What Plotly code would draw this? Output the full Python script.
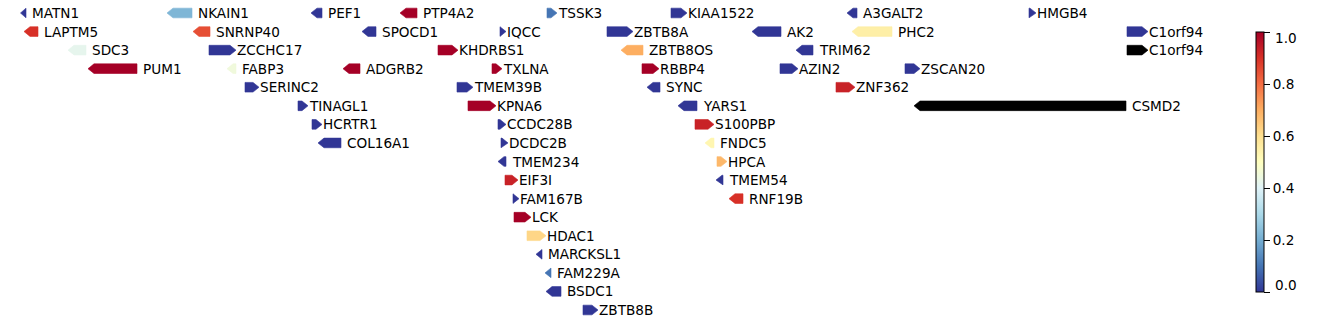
import plotly.graph_objects as go
from plotly.colors import sample_colorscale, diverging

# ---- data (x in track units, row = stacking level) ----
genes = ["MATN1", "NKAIN1", "PEF1", "PTP4A2", "TSSK3", "KIAA1522", "A3GALT2", "HMGB4",
         "LAPTM5", "SNRNP40", "SPOCD1", "IQCC", "ZBTB8A", "AK2", "PHC2", "C1orf94",
         "SDC3", "ZCCHC17", "KHDRBS1", "ZBTB8OS", "TRIM62", "C1orf94",
         "PUM1", "FABP3", "ADGRB2", "TXLNA", "RBBP4", "AZIN2", "ZSCAN20",
         "SERINC2", "TMEM39B", "SYNC", "ZNF362",
         "TINAGL1", "KPNA6", "YARS1", "CSMD2",
         "HCRTR1", "CCDC28B", "S100PBP",
         "COL16A1", "DCDC2B", "FNDC5",
         "TMEM234", "HPCA",
         "EIF3I", "TMEM54",
         "FAM167B", "RNF19B",
         "LCK", "HDAC1", "MARCKSL1", "FAM229A", "BSDC1", "ZBTB8B"]
starts = [20.5, 167, 311, 400, 547, 671, 847, 1029,
          24, 193, 362, 500, 607, 752, 852, 1127,
          68, 209, 438, 621, 796, 1127,
          88, 227, 343, 492, 642, 780, 905,
          245, 457, 647, 836,
          298, 468, 678, 914,
          312, 498, 695,
          318, 501, 705,
          498, 717,
          505, 716,
          513, 729,
          514, 527, 536, 545, 546, 583]
ends = [26, 192, 322, 417, 557, 687, 857, 1036,
        38, 210, 376, 506, 633, 781, 892, 1148,
        86, 236, 458, 643, 813, 1148,
        137, 236, 360, 502, 659, 798, 920,
        259, 473, 660, 855,
        308, 496, 697, 1126,
        322, 506, 714,
        341, 508, 714,
        506, 727,
        518, 723,
        519, 743,
        531, 546, 542, 551, 561, 598]
strands = ["-", "-", "-", "-", "+", "+", "-", "+",
           "-", "-", "-", "+", "+", "-", "-", "+",
           "-", "+", "+", "-", "-", "+",
           "-", "-", "-", "+", "+", "+", "+",
           "+", "+", "-", "+",
           "+", "+", "-", "-",
           "+", "+", "+",
           "-", "+", "-",
           "-", "+",
           "+", "-",
           "+", "-",
           "+", "+", "-", "-", "-", "+"]
rows = [0] * 8 + [1] * 8 + [2] * 6 + [3] * 7 + [4] * 4 + [5] * 4 + [6] * 3 + [7] * 3 + \
       [8] * 2 + [9] * 2 + [10] * 2 + [11, 12, 13, 14, 15, 16]
scores = [0.0, 0.22, 0.0, 1.0, 0.1, 0.0, 0.0, 0.0,
          0.9, 0.85, 0.0, 0.0, 0.0, 0.0, 0.55, 0.0,
          0.42, 0.0, 1.0, 0.7, 0.0, None,
          1.0, 0.45, 1.0, 1.0, 1.0, 0.0, 0.0,
          0.0, 0.0, 0.0, 0.93,
          0.0, 1.0, 0.0, None,
          0.0, 0.0, 0.93,
          0.0, 0.0, 0.53,
          0.0, 0.68,
          0.93, 0.0,
          0.0, 0.9,
          1.0, 0.62, 0.0, 0.1, 0.0, 0.0]
cbar_ticks = [0.0, 0.2, 0.4, 0.6, 0.8, 1.0]

CMIN, CMAX = 0.0, 1.0
rdylbu_r = list(reversed(diverging.RdYlBu))
cscale = [[i / (len(rdylbu_r) - 1), c] for i, c in enumerate(rdylbu_r)]

FONT = "DejaVu Sans"
FS = 13.6
HEAD = 6.0      # arrowhead length in x units
HALF = 0.26     # half height of an arrow in row units

fig = go.Figure()
annotations = []
for g, s, e, st, r, v in zip(genes, starts, ends, strands, rows, scores):
    if v is None:
        col = "#000000"
    else:
        col = sample_colorscale(cscale, [(v - CMIN) / (CMAX - CMIN)])[0]
    h = min(HEAD, e - s)
    if st == "+":
        px = [s, e - h, e, e - h, s, s]
        gap = 0.3
    else:
        px = [e, s + h, s, s + h, e, e]
        gap = 4.5
    py = [r - HALF, r - HALF, r, r + HALF, r + HALF, r - HALF]
    fig.add_trace(go.Scatter(x=px, y=py, mode="lines", fill="toself", fillcolor=col,
                             line=dict(color=col, width=0.6), hoverinfo="skip",
                             showlegend=False))
    annotations.append(dict(x=e + gap, y=r, text=g, showarrow=False, xanchor="left",
                            yanchor="middle", xref="x", yref="y", borderpad=0,
                            font=dict(family=FONT, size=FS, color="black")))

# colorbar geometry (paper fractions)
CB_X = 1256 / 1338
CB_LEN = 260 / 324
CB_TOP = 0.5 + CB_LEN / 2
CB_BOT = 0.5 - CB_LEN / 2
ticktext = ["" if t in (0.0, 1.0) else f"{t:.1f}" for t in cbar_ticks]

fig.add_trace(go.Scatter(
    x=[-1000], y=[-1000], mode="markers", hoverinfo="skip", showlegend=False,
    marker=dict(color=[0.5], colorscale=cscale, cmin=CMIN, cmax=CMAX, showscale=True,
                colorbar=dict(x=CB_X, xanchor="left", y=0.5, yanchor="middle",
                              len=CB_LEN, lenmode="fraction", thickness=7.5,
                              xpad=0, ypad=0, outlinewidth=1, outlinecolor="black",
                              tickvals=cbar_ticks, ticktext=ticktext,
                              ticks="outside", ticklen=6, tickwidth=1, tickcolor="black",
                              tickfont=dict(family=FONT, size=FS, color="black")))))

# end labels of the colorbar sit inside the bar span, as in the reference
annotations.append(dict(x=1274 / 1338, y=CB_TOP - 6 / 324, xref="paper", yref="paper",
                        text=f"{cbar_ticks[-1]:.1f}", showarrow=False, xanchor="left",
                        yanchor="middle", borderpad=0,
                        font=dict(family=FONT, size=FS, color="black")))
annotations.append(dict(x=1274 / 1338, y=CB_BOT + 7.5 / 324, xref="paper", yref="paper",
                        text=f"{cbar_ticks[0]:.1f}", showarrow=False, xanchor="left",
                        yanchor="middle", borderpad=0,
                        font=dict(family=FONT, size=FS, color="black")))

fig.update_layout(
    width=1338, height=324,
    margin=dict(l=0, r=0, t=0, b=0, autoexpand=False),
    paper_bgcolor="white", plot_bgcolor="white",
    xaxis=dict(range=[0, 1338], visible=False, fixedrange=True),
    yaxis=dict(range=[(324 - 13) / 18.5625, -13 / 18.5625], visible=False, fixedrange=True),
    annotations=annotations,
)
fig.write_html("out.html")
